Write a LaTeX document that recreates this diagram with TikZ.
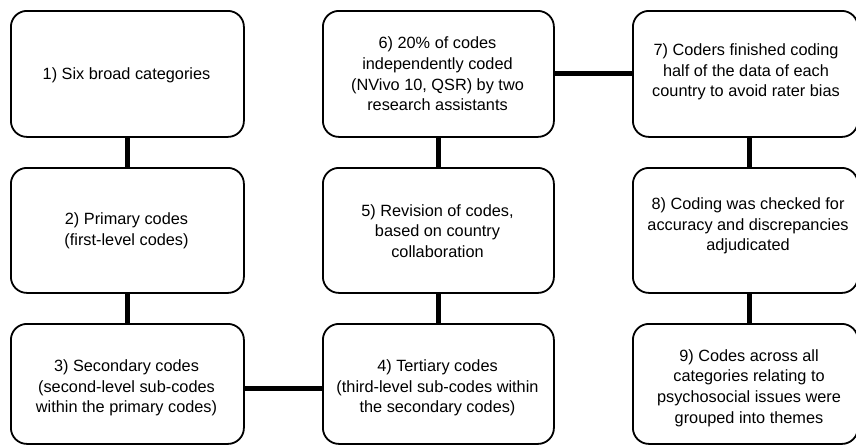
\documentclass[tikz,border=0pt]{standalone}
\usepackage{fontspec}
\setmainfont{Liberation Sans}
\begin{document}
\begin{tikzpicture}[x=1pt,y=-1pt,
  box/.style={draw=black,line width=1.8pt,rounded corners=16pt,fill=white},
  txt/.style={align=center,inner sep=0pt,font=\fontsize{16.3}{20.6}\selectfont},
  link/.style={line width=5pt}]
\useasboundingbox[fill=white] (0,0) rectangle (856,445);
% boxes
\node[box,minimum width=233pt,minimum height=126pt,anchor=north west] (b1) at (10,10) {};
\node[box,minimum width=233pt,minimum height=125pt,anchor=north west] (b2) at (10,167) {};
\node[box,minimum width=233pt,minimum height=120pt,anchor=north west] (b3) at (10,323) {};
\node[box,minimum width=231pt,minimum height=120pt,anchor=north west] (b4) at (322,323) {};
\node[box,minimum width=231pt,minimum height=125pt,anchor=north west] (b5) at (322,167) {};
\node[box,minimum width=231pt,minimum height=126pt,anchor=north west] (b6) at (322,10) {};
\node[box,minimum width=225pt,minimum height=126pt,anchor=north west] (b7) at (632,10) {};
\node[box,minimum width=225pt,minimum height=125pt,anchor=north west] (b8) at (632,167) {};
\node[box,minimum width=225pt,minimum height=120pt,anchor=north west] (b9) at (632,323) {};
% texts
\node[txt] (t1) at (126.5,75) {1) Six broad categories};
\node[txt] (t2) at (126.5,231) {2) Primary codes\\(first-level codes)};
\node[txt] (t3) at (126.5,388) {3) Secondary codes\\(second-level sub-codes\\within the primary codes)};
\node[txt] (t4) at (437.5,388) {4) Tertiary codes\\(third-level sub-codes within\\the secondary codes)};
\node[txt] (t5) at (437.5,231) {5) Revision of codes,\\based on country\\collaboration};
\node[txt] (t6) at (437.5,74) {6) 20\% of codes\\independently coded\\(NVivo 10, QSR) by two\\research assistants};
\node[txt] (t7) at (746,72) {7) Coders finished coding\\half of the data of each\\country to avoid rater bias};
\node[txt] (t8) at (748,226) {8) Coding was checked for\\accuracy and discrepancies\\adjudicated};
\node[txt] (t9) at (749,388) {9) Codes across all\\categories relating to\\psychosocial issues were\\grouped into themes};
% connectors
\draw[link] (b1.south) -- (b2.north);
\draw[link] (b2.south) -- (b3.north);
\draw[link] (b3.east |- t4) -- (b4.west |- t4);
\draw[link] (b4.north) -- (b5.south);
\draw[link] (b5.north) -- (b6.south);
\draw[link] (b6.east |- b7.west) -- (b7.west);
\draw[link] (b7.south -| t9) -- (b8.north -| t9);
\draw[link] (b8.south -| t9) -- (b9.north -| t9);
\end{tikzpicture}
\end{document}
